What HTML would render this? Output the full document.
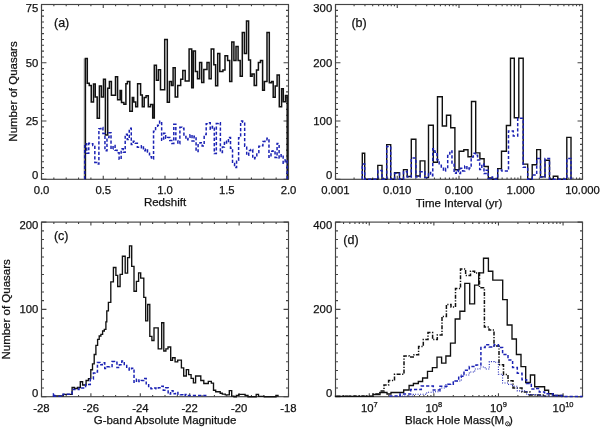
<!DOCTYPE html>
<html><head><meta charset="utf-8"><style>html,body{margin:0;padding:0;background:#fff;width:600px;height:429px;overflow:hidden} text{stroke:#111;stroke-width:0.25px}</style></head>
<body>
<svg width="600" height="429" viewBox="0 0 600 429" style="position:absolute;left:0;top:0;will-change:transform">
<g font-family='"Liberation Sans", sans-serif' fill="#111">
<path d="M41.50 179.3v-3.5M41.50 4.5v3.5M103.25 179.3v-3.5M103.25 4.5v3.5M165.00 179.3v-3.5M165.00 4.5v3.5M226.75 179.3v-3.5M226.75 4.5v3.5M288.50 179.3v-3.5M288.50 4.5v3.5M53.85 179.3v-1.8M53.85 4.5v1.8M66.20 179.3v-1.8M66.20 4.5v1.8M78.55 179.3v-1.8M78.55 4.5v1.8M90.90 179.3v-1.8M90.90 4.5v1.8M115.60 179.3v-1.8M115.60 4.5v1.8M127.95 179.3v-1.8M127.95 4.5v1.8M140.30 179.3v-1.8M140.30 4.5v1.8M152.65 179.3v-1.8M152.65 4.5v1.8M177.35 179.3v-1.8M177.35 4.5v1.8M189.70 179.3v-1.8M189.70 4.5v1.8M202.05 179.3v-1.8M202.05 4.5v1.8M214.40 179.3v-1.8M214.40 4.5v1.8M239.10 179.3v-1.8M239.10 4.5v1.8M251.45 179.3v-1.8M251.45 4.5v1.8M263.80 179.3v-1.8M263.80 4.5v1.8M276.15 179.3v-1.8M276.15 4.5v1.8M41.5 179.30h4.95M288.5 179.30h-4.95M41.5 121.03h4.95M288.5 121.03h-4.95M41.5 62.77h4.95M288.5 62.77h-4.95M41.5 4.50h4.95M288.5 4.50h-4.95M41.5 173.47h2.5M288.5 173.47h-2.5M41.5 167.65h2.5M288.5 167.65h-2.5M41.5 161.82h2.5M288.5 161.82h-2.5M41.5 155.99h2.5M288.5 155.99h-2.5M41.5 150.17h2.5M288.5 150.17h-2.5M41.5 144.34h2.5M288.5 144.34h-2.5M41.5 138.51h2.5M288.5 138.51h-2.5M41.5 132.69h2.5M288.5 132.69h-2.5M41.5 126.86h2.5M288.5 126.86h-2.5M41.5 115.21h2.5M288.5 115.21h-2.5M41.5 109.38h2.5M288.5 109.38h-2.5M41.5 103.55h2.5M288.5 103.55h-2.5M41.5 97.73h2.5M288.5 97.73h-2.5M41.5 91.90h2.5M288.5 91.90h-2.5M41.5 86.07h2.5M288.5 86.07h-2.5M41.5 80.25h2.5M288.5 80.25h-2.5M41.5 74.42h2.5M288.5 74.42h-2.5M41.5 68.59h2.5M288.5 68.59h-2.5M41.5 56.94h2.5M288.5 56.94h-2.5M41.5 51.11h2.5M288.5 51.11h-2.5M41.5 45.29h2.5M288.5 45.29h-2.5M41.5 39.46h2.5M288.5 39.46h-2.5M41.5 33.63h2.5M288.5 33.63h-2.5M41.5 27.81h2.5M288.5 27.81h-2.5M41.5 21.98h2.5M288.5 21.98h-2.5M41.5 16.15h2.5M288.5 16.15h-2.5M41.5 10.33h2.5M288.5 10.33h-2.5" stroke="#444" stroke-width="1.1" fill="none"/>
<rect x="41.5" y="4.5" width="247.0" height="174.8" stroke="#444" stroke-width="1.15" fill="none"/>
<path d="M335.50 179.3v-3.5M335.50 4.5v3.5M397.25 179.3v-3.5M397.25 4.5v3.5M459.00 179.3v-3.5M459.00 4.5v3.5M520.75 179.3v-3.5M520.75 4.5v3.5M582.50 179.3v-3.5M582.50 4.5v3.5M354.09 179.3v-1.8M354.09 4.5v1.8M364.96 179.3v-1.8M364.96 4.5v1.8M372.68 179.3v-1.8M372.68 4.5v1.8M378.66 179.3v-1.8M378.66 4.5v1.8M383.55 179.3v-1.8M383.55 4.5v1.8M387.68 179.3v-1.8M387.68 4.5v1.8M391.27 179.3v-1.8M391.27 4.5v1.8M394.42 179.3v-1.8M394.42 4.5v1.8M415.84 179.3v-1.8M415.84 4.5v1.8M426.71 179.3v-1.8M426.71 4.5v1.8M434.43 179.3v-1.8M434.43 4.5v1.8M440.41 179.3v-1.8M440.41 4.5v1.8M445.30 179.3v-1.8M445.30 4.5v1.8M449.43 179.3v-1.8M449.43 4.5v1.8M453.02 179.3v-1.8M453.02 4.5v1.8M456.17 179.3v-1.8M456.17 4.5v1.8M477.59 179.3v-1.8M477.59 4.5v1.8M488.46 179.3v-1.8M488.46 4.5v1.8M496.18 179.3v-1.8M496.18 4.5v1.8M502.16 179.3v-1.8M502.16 4.5v1.8M507.05 179.3v-1.8M507.05 4.5v1.8M511.18 179.3v-1.8M511.18 4.5v1.8M514.77 179.3v-1.8M514.77 4.5v1.8M517.92 179.3v-1.8M517.92 4.5v1.8M539.34 179.3v-1.8M539.34 4.5v1.8M550.21 179.3v-1.8M550.21 4.5v1.8M557.93 179.3v-1.8M557.93 4.5v1.8M563.91 179.3v-1.8M563.91 4.5v1.8M568.80 179.3v-1.8M568.80 4.5v1.8M572.93 179.3v-1.8M572.93 4.5v1.8M576.52 179.3v-1.8M576.52 4.5v1.8M579.67 179.3v-1.8M579.67 4.5v1.8M335.5 179.30h4.95M582.5 179.30h-4.95M335.5 121.03h4.95M582.5 121.03h-4.95M335.5 62.77h4.95M582.5 62.77h-4.95M335.5 4.50h4.95M582.5 4.50h-4.95M335.5 173.47h2.5M582.5 173.47h-2.5M335.5 167.65h2.5M582.5 167.65h-2.5M335.5 161.82h2.5M582.5 161.82h-2.5M335.5 155.99h2.5M582.5 155.99h-2.5M335.5 150.17h2.5M582.5 150.17h-2.5M335.5 144.34h2.5M582.5 144.34h-2.5M335.5 138.51h2.5M582.5 138.51h-2.5M335.5 132.69h2.5M582.5 132.69h-2.5M335.5 126.86h2.5M582.5 126.86h-2.5M335.5 115.21h2.5M582.5 115.21h-2.5M335.5 109.38h2.5M582.5 109.38h-2.5M335.5 103.55h2.5M582.5 103.55h-2.5M335.5 97.73h2.5M582.5 97.73h-2.5M335.5 91.90h2.5M582.5 91.90h-2.5M335.5 86.07h2.5M582.5 86.07h-2.5M335.5 80.25h2.5M582.5 80.25h-2.5M335.5 74.42h2.5M582.5 74.42h-2.5M335.5 68.59h2.5M582.5 68.59h-2.5M335.5 56.94h2.5M582.5 56.94h-2.5M335.5 51.11h2.5M582.5 51.11h-2.5M335.5 45.29h2.5M582.5 45.29h-2.5M335.5 39.46h2.5M582.5 39.46h-2.5M335.5 33.63h2.5M582.5 33.63h-2.5M335.5 27.81h2.5M582.5 27.81h-2.5M335.5 21.98h2.5M582.5 21.98h-2.5M335.5 16.15h2.5M582.5 16.15h-2.5M335.5 10.33h2.5M582.5 10.33h-2.5" stroke="#444" stroke-width="1.1" fill="none"/>
<rect x="335.5" y="4.5" width="247.0" height="174.8" stroke="#444" stroke-width="1.15" fill="none"/>
<path d="M41.50 396.7v-3.5M41.50 222.1v3.5M90.90 396.7v-3.5M90.90 222.1v3.5M140.30 396.7v-3.5M140.30 222.1v3.5M189.70 396.7v-3.5M189.70 222.1v3.5M239.10 396.7v-3.5M239.10 222.1v3.5M288.50 396.7v-3.5M288.50 222.1v3.5M53.85 396.7v-1.8M53.85 222.1v1.8M66.20 396.7v-1.8M66.20 222.1v1.8M78.55 396.7v-1.8M78.55 222.1v1.8M103.25 396.7v-1.8M103.25 222.1v1.8M115.60 396.7v-1.8M115.60 222.1v1.8M127.95 396.7v-1.8M127.95 222.1v1.8M152.65 396.7v-1.8M152.65 222.1v1.8M165.00 396.7v-1.8M165.00 222.1v1.8M177.35 396.7v-1.8M177.35 222.1v1.8M202.05 396.7v-1.8M202.05 222.1v1.8M214.40 396.7v-1.8M214.40 222.1v1.8M226.75 396.7v-1.8M226.75 222.1v1.8M251.45 396.7v-1.8M251.45 222.1v1.8M263.80 396.7v-1.8M263.80 222.1v1.8M276.15 396.7v-1.8M276.15 222.1v1.8M41.5 396.70h4.95M288.5 396.70h-4.95M41.5 309.40h4.95M288.5 309.40h-4.95M41.5 222.10h4.95M288.5 222.10h-4.95M41.5 387.97h2.5M288.5 387.97h-2.5M41.5 379.24h2.5M288.5 379.24h-2.5M41.5 370.51h2.5M288.5 370.51h-2.5M41.5 361.78h2.5M288.5 361.78h-2.5M41.5 353.05h2.5M288.5 353.05h-2.5M41.5 344.32h2.5M288.5 344.32h-2.5M41.5 335.59h2.5M288.5 335.59h-2.5M41.5 326.86h2.5M288.5 326.86h-2.5M41.5 318.13h2.5M288.5 318.13h-2.5M41.5 300.67h2.5M288.5 300.67h-2.5M41.5 291.94h2.5M288.5 291.94h-2.5M41.5 283.21h2.5M288.5 283.21h-2.5M41.5 274.48h2.5M288.5 274.48h-2.5M41.5 265.75h2.5M288.5 265.75h-2.5M41.5 257.02h2.5M288.5 257.02h-2.5M41.5 248.29h2.5M288.5 248.29h-2.5M41.5 239.56h2.5M288.5 239.56h-2.5M41.5 230.83h2.5M288.5 230.83h-2.5" stroke="#444" stroke-width="1.1" fill="none"/>
<rect x="41.5" y="222.1" width="247.0" height="174.6" stroke="#444" stroke-width="1.15" fill="none"/>
<path d="M369.27 396.7v-3.5M369.27 222.1v3.5M433.87 396.7v-3.5M433.87 222.1v3.5M498.46 396.7v-3.5M498.46 222.1v3.5M563.06 396.7v-3.5M563.06 222.1v3.5M335.50 396.7v-1.8M335.50 222.1v1.8M343.57 396.7v-1.8M343.57 222.1v1.8M349.83 396.7v-1.8M349.83 222.1v1.8M354.94 396.7v-1.8M354.94 222.1v1.8M359.27 396.7v-1.8M359.27 222.1v1.8M363.01 396.7v-1.8M363.01 222.1v1.8M366.32 396.7v-1.8M366.32 222.1v1.8M388.72 396.7v-1.8M388.72 222.1v1.8M400.09 396.7v-1.8M400.09 222.1v1.8M408.16 396.7v-1.8M408.16 222.1v1.8M414.42 396.7v-1.8M414.42 222.1v1.8M419.54 396.7v-1.8M419.54 222.1v1.8M423.86 396.7v-1.8M423.86 222.1v1.8M427.61 396.7v-1.8M427.61 222.1v1.8M430.91 396.7v-1.8M430.91 222.1v1.8M453.31 396.7v-1.8M453.31 222.1v1.8M464.69 396.7v-1.8M464.69 222.1v1.8M472.76 396.7v-1.8M472.76 222.1v1.8M479.02 396.7v-1.8M479.02 222.1v1.8M484.13 396.7v-1.8M484.13 222.1v1.8M488.46 396.7v-1.8M488.46 222.1v1.8M492.20 396.7v-1.8M492.20 222.1v1.8M495.51 396.7v-1.8M495.51 222.1v1.8M517.91 396.7v-1.8M517.91 222.1v1.8M529.28 396.7v-1.8M529.28 222.1v1.8M537.35 396.7v-1.8M537.35 222.1v1.8M543.61 396.7v-1.8M543.61 222.1v1.8M548.73 396.7v-1.8M548.73 222.1v1.8M553.05 396.7v-1.8M553.05 222.1v1.8M556.80 396.7v-1.8M556.80 222.1v1.8M560.10 396.7v-1.8M560.10 222.1v1.8M582.50 396.7v-1.8M582.50 222.1v1.8M335.5 396.70h4.95M582.5 396.70h-4.95M335.5 309.40h4.95M582.5 309.40h-4.95M335.5 222.10h4.95M582.5 222.10h-4.95M335.5 387.97h2.5M582.5 387.97h-2.5M335.5 379.24h2.5M582.5 379.24h-2.5M335.5 370.51h2.5M582.5 370.51h-2.5M335.5 361.78h2.5M582.5 361.78h-2.5M335.5 353.05h2.5M582.5 353.05h-2.5M335.5 344.32h2.5M582.5 344.32h-2.5M335.5 335.59h2.5M582.5 335.59h-2.5M335.5 326.86h2.5M582.5 326.86h-2.5M335.5 318.13h2.5M582.5 318.13h-2.5M335.5 300.67h2.5M582.5 300.67h-2.5M335.5 291.94h2.5M582.5 291.94h-2.5M335.5 283.21h2.5M582.5 283.21h-2.5M335.5 274.48h2.5M582.5 274.48h-2.5M335.5 265.75h2.5M582.5 265.75h-2.5M335.5 257.02h2.5M582.5 257.02h-2.5M335.5 248.29h2.5M582.5 248.29h-2.5M335.5 239.56h2.5M582.5 239.56h-2.5M335.5 230.83h2.5M582.5 230.83h-2.5" stroke="#444" stroke-width="1.1" fill="none"/>
<rect x="335.5" y="222.1" width="247.0" height="174.6" stroke="#444" stroke-width="1.15" fill="none"/>
<path d="M84.2 179.3V58.5" stroke="#999" stroke-width="1.0"/>
<path d="M85.40 179.30V58.50H87.30V83.30H89.25V85.60H91.25V102.00H93.50V84.00H95.25V97.10H97.20V118.30H99.40V86.00H101.40V97.00H103.50V79.30H105.40V134.90H107.70V88.20H109.40V81.40H111.40V95.20H115.50V76.70H117.60V99.80H120.10V90.60H121.50V102.40H123.90V104.30H125.90V83.70H127.40V81.60H129.80V111.20H132.30V97.50H133.70V101.90H135.70V106.80H137.60V83.70H140.60V95.10H142.30V106.70H144.20V97.50H146.10V95.70H148.30V106.70H150.50V104.50H152.70V118.00H154.30V65.20H156.40V80.30H158.40V69.80H160.50V89.70H164.70V39.40H167.30V102.30H169.40V81.40H171.40V85.60H173.10V67.70H175.20V97.00H177.70V85.60H180.70V79.30H182.80V70.40H185.20V80.90H189.10V48.90H191.70V87.70H193.30V51.00H195.40V71.50H197.50V78.80H199.60V62.60H201.70V82.50H203.80V69.40H207.00V62.60H209.10V78.80H211.20V48.90H213.80V64.70H215.60V85.70H217.70V53.60H219.80V71.50H222.90V69.90H225.00V55.70H227.60V60.40H229.70V81.50H231.80V42.10H233.90V60.40H236.00V46.50H238.10V60.40H240.20V76.30H242.30V32.50H244.40V53.40H246.50V20.90H248.60V60.00H250.50V76.20H252.10V74.10H254.20V85.50H256.50V69.90H258.40V62.60H260.50V60.50H262.60V90.30H264.40V81.60H267.00V32.50H269.30V82.80H271.50V81.60H273.20V97.20H275.20V86.00H277.10V74.90H279.30V106.70H281.60V88.80H283.30V101.70H285.50V95.60H287.20V179.30" fill="none" stroke="#111" stroke-width="1.5" stroke-linejoin="miter" stroke-linecap="butt" />
<path d="M84.70 179.30V143.64H86.73V153.15H88.75V143.36H90.78V143.79H92.80V145.59H94.83V162.42H96.85V163.98H98.88V128.78H100.90V127.58H102.93V133.50H104.95V150.75H106.98V137.60H109.00V132.76H111.03V149.04H113.05V145.43H115.08V150.15H117.10V152.73H119.12V159.29H121.15V148.82H123.18V152.31H125.20V134.23H127.23V139.60H129.25V128.37H131.28V144.48H133.30V141.35H135.33V143.30H137.35V147.23H139.38V147.83H141.40V145.86H143.43V150.74H145.45V149.03H147.47V151.98H149.50V156.76H151.53V159.04H153.55V131.24H155.58V126.34H157.60V125.24H159.62V121.34H161.65V140.31H163.68V133.26H165.70V138.13H167.72V137.44H169.75V140.53H171.78V143.48H173.80V124.34H175.83V140.73H177.85V143.83H179.88V127.25H181.90V128.36H183.92V136.48H185.95V139.85H187.97V137.13H190.00V134.80H192.03V140.93H194.05V136.19H196.08V151.55H198.10V143.12H200.12V142.67H202.15V145.89H204.17V134.61H206.20V123.66H208.22V122.75H210.25V129.22H212.28V126.50H214.30V153.54H216.33V123.49H218.35V122.83H220.38V152.45H222.40V147.07H224.42V141.30H226.45V143.11H228.47V137.44H230.50V148.15H232.53V163.48H234.55V167.48H236.58V160.14H238.60V137.69H240.63V121.12H242.65V122.33H244.67V146.17H246.70V155.31H248.72V150.60H250.75V149.44H252.78V158.72H254.80V157.54H256.82V152.54H258.85V146.35H260.88V145.86H262.90V141.42H264.92V141.33H266.95V138.35H268.97V157.28H271.00V151.36H273.02V150.73H275.05V157.58H277.07V143.38H279.10V157.90H281.12V154.86H283.15V163.24H285.17V159.83H287.20V179.30" fill="none" stroke="#1b22b4" stroke-width="1.5" stroke-dasharray="3.2 2" stroke-linejoin="miter" stroke-linecap="butt" />
<path d="M362.30 179.30V153.30H364.70V179.30H377.80V165.40H382.00V179.30H386.70V144.60H390.70V179.30H394.60V172.70H399.50V179.30H403.50V169.60H407.20V176.50H411.30V139.30H415.90V176.00H420.10V160.90H424.90V177.60H428.50V125.30H433.30V162.30H437.50V96.80H442.30V126.00H446.50V115.20H450.70V127.70H454.90V169.70H459.10V151.20H463.80V149.70H468.00V156.70H471.50V101.50H475.70V152.90H479.90V158.80H484.10V166.50H488.30V178.00H492.50V179.30H497.70V168.60H501.50V151.30H506.40V125.50H510.50V58.30H514.30V117.80H518.80V58.30H523.20V164.10H527.70V179.30H532.20V164.70H536.70V149.60H540.50V176.90H545.00V160.30H549.50V179.30H553.30V176.30H557.80V179.30H566.80V137.40H571.00V179.30" fill="none" stroke="#111" stroke-width="1.4" stroke-linejoin="miter" stroke-linecap="butt" />
<path d="M362.30 179.30V164.00H364.70V179.30H377.80V170.60H382.00V179.30H386.70V146.50H390.70V179.30H394.60V173.30H399.50V179.30H403.50V171.50H407.20V177.00H411.30V158.10H415.90V177.00H420.10V171.80H424.90V177.50H428.50V172.52H430.63V175.66H432.77V148.81H434.90V152.16H437.03V159.86H439.17V165.24H441.30V166.91H443.43V170.99H445.57V168.34H447.70V155.61H449.83V150.96H451.97V163.92H454.10V173.28H456.23V170.31H458.37V173.38H460.50V168.24H462.63V170.98H464.77V165.88H466.90V169.39H469.03V168.08H471.17V156.97H473.30V153.32H475.43V155.36H477.57V159.99H479.70V169.48H481.83V164.00H483.97V173.61H486.10V170.23H488.23V178.50H490.37V176.99H492.50V179.30H497.70V170.00H501.90V171.00H508.50V131.00H513.30V136.00H517.70V118.20H523.20V167.30H527.70V179.30H532.20V175.00H536.70V158.60H540.50V176.90H545.00V158.60H549.50V179.30H566.80V158.60H571.00V179.30" fill="none" stroke="#1b22b4" stroke-width="1.5" stroke-dasharray="3.2 2" stroke-linejoin="miter" stroke-linecap="butt" />
<path d="M53.50 396.70V395.80H63.40V394.30H72.10V387.50H74.50V388.50H77.40V387.50H80.30V381.70H82.60V385.00H86.10V380.50H88.50V378.60H90.80V369.70H92.50V363.80H94.20V354.50H95.90V345.30H97.60V339.40H99.20V336.00H100.90V334.40H102.60V331.00H104.30V329.40H105.90V321.80H106.80V310.80H108.40V302.40H110.80V281.80H113.40V267.50H115.90V275.30H117.70V286.50H120.10V274.40H122.40V256.30H125.20V273.10H127.60V257.60H129.50V245.80H131.70V266.40H134.00V291.20H136.40V281.30H138.60V272.90H140.70V278.10H143.80V297.30H145.70V320.90H147.70V304.50H149.80V336.30H151.90V340.50H154.00V327.90H158.20V348.80H161.70V322.70H163.80V351.00H165.90V348.80H168.00V347.00H170.70V360.40H172.50V357.70H175.10V361.90H177.70V360.10H181.40V367.80H183.70V376.00H186.30V369.60H188.60V374.60H191.10V378.30H193.40V382.80H195.60V376.00H200.80V380.50H203.80V383.50H208.30V381.30H211.30V383.10H213.50V390.20H215.70V391.70H220.20V393.20H222.30V394.10H225.30V394.90H229.30V390.60H231.70V396.10H234.00V396.70H236.30V395.30H238.70V394.30H245.10V395.50H248.00V396.70H256.20V394.30H258.50V396.30H264.30V396.70H276.00V395.50H278.00V396.70" fill="none" stroke="#111" stroke-width="1.35" stroke-linejoin="miter" stroke-linecap="butt" />
<path d="M53.50 396.70V393.70H54.70V396.30H63.00V394.30H72.00V389.60H79.00V387.90H85.60V384.40H90.30V379.10H93.40V373.00H95.00V372.12H97.44V362.38H99.88V364.64H102.32V362.81H104.75V368.47H107.19V366.77H109.63V366.41H112.07V361.57H114.51V362.37H116.95V367.59H119.38V364.78H121.82V361.08H124.26V364.53H126.70V368.00H129.14V369.92H131.58V368.16H134.02V382.33H136.45V379.19H138.89V381.46H141.33V380.56H143.77V378.43H146.21V384.87H148.65V387.93H151.08V388.64H153.52V388.10H155.96V388.81H158.40V387.77H160.84V386.21H163.28V390.14H165.72V387.86H168.15V394.08H170.59V390.73H173.03V393.86H175.47V392.39H177.91V394.21H180.35V394.65H182.78V395.50H185.22V394.55H187.66V395.50H190.10V395.40H206.80V396.70" fill="none" stroke="#1b22b4" stroke-width="1.5" stroke-dasharray="3.2 2" stroke-linejoin="miter" stroke-linecap="butt" />
<path d="M335.50 396.70V396.30H373.00V394.50H380.00V392.50H387.00V394.00H391.00V392.50H403.70V390.00H409.10V385.50H413.40V383.50H418.30V381.50H422.60V378.00H427.50V371.30H432.40V367.60H437.00V357.10H441.60V363.10H445.90V356.00H450.50V343.10H455.20V319.00H459.90V311.20H464.80V283.40H469.70V303.80H474.60V285.10H478.70V272.80H483.50V258.20H488.40V271.20H492.80V280.10H502.70V299.60H507.20V325.00H512.00V339.00H516.40V354.50H521.00V366.60H525.70V382.50H530.40V375.00H534.70V386.70H544.60V390.20H548.60V393.70H553.30V395.50H562.60V396.70" fill="none" stroke="#111" stroke-width="1.35" stroke-linejoin="miter" stroke-linecap="butt" />
<path d="M337.00 396.70V396.20H373.00V394.00H380.00V391.00H384.00V385.00H388.60V380.50H394.50V374.30H404.00V356.00H409.30V357.10H414.00V354.80H418.60V346.60H423.30V339.60H428.00V332.60H432.60V339.60H437.30V335.00H442.00V316.40H446.40V304.50H451.00V307.10H455.50V288.50H460.50V269.00H465.60V275.50H470.50V271.20H474.60V273.00H479.50V287.80H484.40V327.00H489.00V330.00H494.00V346.00H499.00V364.80H503.50V374.50H508.00V380.80H513.00V388.10H522.00V392.00H530.00V395.00H545.00V396.70" fill="none" stroke="#111" stroke-width="1.5" stroke-dasharray="4 1.5 1.2 1.5" stroke-linejoin="miter" stroke-linecap="butt" />
<path d="M390.00 396.70V396.00H400.00V394.00H410.70V389.50H421.30V386.00H433.30V390.00H440.00V386.30H448.00V384.30H453.30V381.00H458.70V376.30H464.00V370.30H469.30V366.50H476.00V365.00H480.90V347.60H485.10V344.80H489.30V346.90H494.20V344.80H498.40V347.60H502.60V354.50H508.00V360.00H512.60V367.60H517.30V373.20H522.00V379.70H526.60V383.40H531.30V389.00H536.00V388.50H539.30V392.00H544.60V393.70H553.00V395.50H562.00V396.50H582.00V396.70" fill="none" stroke="#1b22b4" stroke-width="1.5" stroke-dasharray="3.2 2" stroke-linejoin="miter" stroke-linecap="butt" />
<path d="M400.00 396.70V396.00H413.30V394.30H426.70V392.30H433.30V391.70H440.00V388.00H446.00V384.50H453.30V381.00H461.30V375.00H469.30V372.00H474.70V369.00H480.00V367.00H485.10V369.00H489.30V361.60H494.20V362.30H498.40V374.20H502.60V383.00H508.00V384.40H512.60V386.20H517.30V390.90H526.60V394.60H540.00V396.00H560.00V396.70" fill="none" stroke="#1b22b4" stroke-width="1.1" stroke-dasharray="1 1.5" stroke-linejoin="miter" stroke-linecap="butt" />
<text x="38.30" y="179.10" text-anchor="end" font-size="11.3" >0</text>
<text x="38.30" y="125.03" text-anchor="end" font-size="11.3" >25</text>
<text x="38.30" y="66.77" text-anchor="end" font-size="11.3" >50</text>
<text x="38.30" y="11.50" text-anchor="end" font-size="11.3" >75</text>
<text x="332.20" y="179.10" text-anchor="end" font-size="11.3" >0</text>
<text x="332.20" y="125.03" text-anchor="end" font-size="11.3" >100</text>
<text x="332.20" y="66.77" text-anchor="end" font-size="11.3" >200</text>
<text x="332.20" y="11.50" text-anchor="end" font-size="11.3" >300</text>
<text x="38.30" y="396.50" text-anchor="end" font-size="11.3" >0</text>
<text x="38.30" y="313.40" text-anchor="end" font-size="11.3" >100</text>
<text x="38.30" y="229.10" text-anchor="end" font-size="11.3" >200</text>
<text x="332.20" y="396.50" text-anchor="end" font-size="11.3" >0</text>
<text x="332.20" y="313.40" text-anchor="end" font-size="11.3" >200</text>
<text x="332.20" y="229.10" text-anchor="end" font-size="11.3" >400</text>
<text x="41.50" y="193.60" text-anchor="middle" font-size="11.3" >0.0</text>
<text x="103.25" y="193.60" text-anchor="middle" font-size="11.3" >0.5</text>
<text x="165.00" y="193.60" text-anchor="middle" font-size="11.3" >1.0</text>
<text x="226.75" y="193.60" text-anchor="middle" font-size="11.3" >1.5</text>
<text x="288.50" y="193.60" text-anchor="middle" font-size="11.3" >2.0</text>
<text x="335.50" y="193.60" text-anchor="middle" font-size="11.3" >0.001</text>
<text x="397.25" y="193.60" text-anchor="middle" font-size="11.3" >0.010</text>
<text x="459.00" y="193.60" text-anchor="middle" font-size="11.3" >0.100</text>
<text x="520.75" y="193.60" text-anchor="middle" font-size="11.3" >1.000</text>
<text x="582.50" y="193.60" text-anchor="middle" font-size="11.3" >10.000</text>
<text x="41.50" y="411.50" text-anchor="middle" font-size="11.3" >-28</text>
<text x="90.90" y="411.50" text-anchor="middle" font-size="11.3" >-26</text>
<text x="140.30" y="411.50" text-anchor="middle" font-size="11.3" >-24</text>
<text x="189.70" y="411.50" text-anchor="middle" font-size="11.3" >-22</text>
<text x="239.10" y="411.50" text-anchor="middle" font-size="11.3" >-20</text>
<text x="288.50" y="411.50" text-anchor="middle" font-size="11.3" >-18</text>
<text x="369.27" y="411.5" text-anchor="middle" font-size="11.3">10<tspan font-size="7.5" dy="-4.5">7</tspan></text>
<text x="433.87" y="411.5" text-anchor="middle" font-size="11.3">10<tspan font-size="7.5" dy="-4.5">8</tspan></text>
<text x="498.46" y="411.5" text-anchor="middle" font-size="11.3">10<tspan font-size="7.5" dy="-4.5">9</tspan></text>
<text x="563.06" y="411.5" text-anchor="middle" font-size="11.3">10<tspan font-size="7.5" dy="-4.5">10</tspan></text>
<text x="165.00" y="206.40" text-anchor="middle" font-size="11.5" >Redshift</text>
<text x="459.00" y="206.60" text-anchor="middle" font-size="11.5" >Time Interval (yr)</text>
<text x="165.00" y="424.20" text-anchor="middle" font-size="11.5" >G-band Absolute Magnitude</text>
<text x="405.1" y="424.1" text-anchor="start" font-size="11.5">Black Hole Mass(M</text>
<circle cx="507.5" cy="423.8" r="2.0" fill="none" stroke="#111" stroke-width="0.9"/><circle cx="507.5" cy="423.8" r="0.6" fill="#111"/>
<text x="509.0" y="424.1" text-anchor="start" font-size="11.5">)</text>
<text transform="translate(16.5,91.5) rotate(-90)" text-anchor="middle" font-size="11.5">Number of Quasars</text>
<text transform="translate(9.5,309.4) rotate(-90)" text-anchor="middle" font-size="11.5">Number of Quasars</text>
<text x="54.00" y="27.40" text-anchor="start" font-size="12.5" >(a)</text>
<text x="351.40" y="27.40" text-anchor="start" font-size="12.5" >(b)</text>
<text x="53.90" y="239.70" text-anchor="start" font-size="12.5" >(c)</text>
<text x="343.30" y="243.70" text-anchor="start" font-size="12.5" >(d)</text>
</g></svg>
</body></html>
